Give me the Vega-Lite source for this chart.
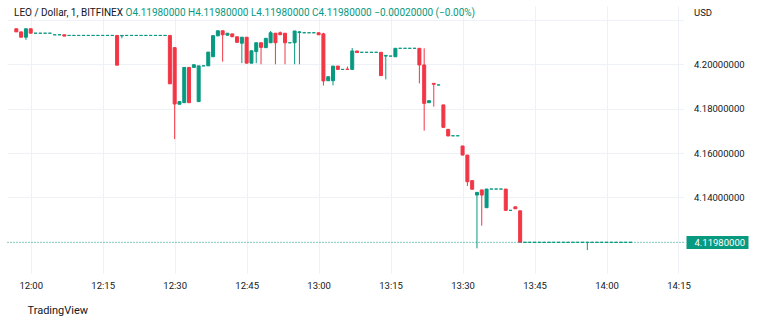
{
  "$schema": "https://vega.github.io/schema/vega-lite/v6.json",
  "width": 676.5,
  "height": 267,
  "autosize": {"type": "none"},
  "padding": {"left": 7, "top": 6, "right": 76.5, "bottom": 52},
  "background": "white",
  "config": {"view": {"stroke": null}, "font": "Roboto"},
  "title": {"text": "LEO / Dollar, 1, BITFINEX", "anchor": "start", "frame": "group", "dx": 7, "dy": 11, "offset": -6, "baseline": "middle", "fontSize": 10, "fontWeight": "normal", "color": "#131722"},
  "data": {
    "format": {"parse": {"t": "date:'%H:%M'"}},
    "values": [
      {"t": "11:57", "o": 4.2160, "h": 4.2160, "l": 4.2146, "c": 4.2146},
      {"t": "11:58", "o": 4.2146, "h": 4.2146, "l": 4.2122, "c": 4.2122},
      {"t": "11:59", "o": 4.2122, "h": 4.2160, "l": 4.2110, "c": 4.2160},
      {"t": "12:00", "o": 4.2160, "h": 4.2160, "l": 4.2140, "c": 4.2140},
      {"t": "12:01", "o": 4.2140, "h": 4.2140, "l": 4.2140, "c": 4.2140},
      {"t": "12:02", "o": 4.2140, "h": 4.2140, "l": 4.2140, "c": 4.2140},
      {"t": "12:03", "o": 4.2140, "h": 4.2140, "l": 4.2140, "c": 4.2140},
      {"t": "12:04", "o": 4.2140, "h": 4.2140, "l": 4.2140, "c": 4.2140},
      {"t": "12:05", "o": 4.2133, "h": 4.2133, "l": 4.2133, "c": 4.2133},
      {"t": "12:06", "o": 4.2133, "h": 4.2133, "l": 4.2133, "c": 4.2133},
      {"t": "12:07", "o": 4.2133, "h": 4.2133, "l": 4.2127, "c": 4.2127},
      {"t": "12:08", "o": 4.2130, "h": 4.2130, "l": 4.2130, "c": 4.2130},
      {"t": "12:09", "o": 4.2130, "h": 4.2130, "l": 4.2130, "c": 4.2130},
      {"t": "12:10", "o": 4.2130, "h": 4.2130, "l": 4.2130, "c": 4.2130},
      {"t": "12:11", "o": 4.2130, "h": 4.2130, "l": 4.2130, "c": 4.2130},
      {"t": "12:12", "o": 4.2130, "h": 4.2130, "l": 4.2130, "c": 4.2130},
      {"t": "12:13", "o": 4.2130, "h": 4.2130, "l": 4.2130, "c": 4.2130},
      {"t": "12:14", "o": 4.2130, "h": 4.2130, "l": 4.2130, "c": 4.2130},
      {"t": "12:15", "o": 4.2130, "h": 4.2130, "l": 4.2130, "c": 4.2130},
      {"t": "12:16", "o": 4.2130, "h": 4.2130, "l": 4.2130, "c": 4.2130},
      {"t": "12:17", "o": 4.2130, "h": 4.2130, "l": 4.2130, "c": 4.2130},
      {"t": "12:18", "o": 4.2130, "h": 4.2130, "l": 4.1996, "c": 4.1996},
      {"t": "12:19", "o": 4.2128, "h": 4.2130, "l": 4.2117, "c": 4.2130},
      {"t": "12:20", "o": 4.2130, "h": 4.2130, "l": 4.2130, "c": 4.2130},
      {"t": "12:21", "o": 4.2130, "h": 4.2130, "l": 4.2130, "c": 4.2130},
      {"t": "12:22", "o": 4.2130, "h": 4.2130, "l": 4.2130, "c": 4.2130},
      {"t": "12:23", "o": 4.2130, "h": 4.2130, "l": 4.2130, "c": 4.2130},
      {"t": "12:24", "o": 4.2130, "h": 4.2130, "l": 4.2130, "c": 4.2130},
      {"t": "12:25", "o": 4.2130, "h": 4.2130, "l": 4.2130, "c": 4.2130},
      {"t": "12:26", "o": 4.2130, "h": 4.2130, "l": 4.2130, "c": 4.2130},
      {"t": "12:27", "o": 4.2130, "h": 4.2130, "l": 4.2130, "c": 4.2130},
      {"t": "12:28", "o": 4.2130, "h": 4.2130, "l": 4.2130, "c": 4.2130},
      {"t": "12:29", "o": 4.2130, "h": 4.2130, "l": 4.1912, "c": 4.1912},
      {"t": "12:30", "o": 4.2075, "h": 4.2075, "l": 4.1663, "c": 4.1821},
      {"t": "12:31", "o": 4.1820, "h": 4.1832, "l": 4.1820, "c": 4.1832},
      {"t": "12:32", "o": 4.1827, "h": 4.1986, "l": 4.1827, "c": 4.1986},
      {"t": "12:33", "o": 4.1986, "h": 4.1986, "l": 4.1827, "c": 4.1827},
      {"t": "12:34", "o": 4.1986, "h": 4.1998, "l": 4.1986, "c": 4.1998},
      {"t": "12:35", "o": 4.1832, "h": 4.1993, "l": 4.1832, "c": 4.1993},
      {"t": "12:36", "o": 4.1993, "h": 4.1993, "l": 4.1993, "c": 4.1993},
      {"t": "12:37", "o": 4.1993, "h": 4.2055, "l": 4.1993, "c": 4.2055},
      {"t": "12:38", "o": 4.2034, "h": 4.2129, "l": 4.2034, "c": 4.2129},
      {"t": "12:39", "o": 4.2128, "h": 4.2151, "l": 4.2128, "c": 4.2151},
      {"t": "12:40", "o": 4.2151, "h": 4.2151, "l": 4.2012, "c": 4.2133},
      {"t": "12:41", "o": 4.2131, "h": 4.2140, "l": 4.2131, "c": 4.2140},
      {"t": "12:42", "o": 4.2137, "h": 4.2137, "l": 4.2124, "c": 4.2124},
      {"t": "12:43", "o": 4.2124, "h": 4.2124, "l": 4.2099, "c": 4.2099},
      {"t": "12:44", "o": 4.2095, "h": 4.2122, "l": 4.2005, "c": 4.2122},
      {"t": "12:45", "o": 4.2122, "h": 4.2122, "l": 4.2005, "c": 4.2005},
      {"t": "12:46", "o": 4.2005, "h": 4.2061, "l": 4.2005, "c": 4.2061},
      {"t": "12:47", "o": 4.2057, "h": 4.2097, "l": 4.2005, "c": 4.2097},
      {"t": "12:48", "o": 4.2097, "h": 4.2097, "l": 4.2000, "c": 4.2076},
      {"t": "12:49", "o": 4.2075, "h": 4.2117, "l": 4.2075, "c": 4.2117},
      {"t": "12:50", "o": 4.2097, "h": 4.2150, "l": 4.2097, "c": 4.2142},
      {"t": "12:51", "o": 4.2140, "h": 4.2140, "l": 4.2000, "c": 4.2097},
      {"t": "12:52", "o": 4.2142, "h": 4.2148, "l": 4.2133, "c": 4.2133},
      {"t": "12:53", "o": 4.2140, "h": 4.2140, "l": 4.2000, "c": 4.2097},
      {"t": "12:54", "o": 4.2097, "h": 4.2097, "l": 4.2097, "c": 4.2097},
      {"t": "12:55", "o": 4.2097, "h": 4.2150, "l": 4.2000, "c": 4.2150},
      {"t": "12:56", "o": 4.2143, "h": 4.2150, "l": 4.2000, "c": 4.2146},
      {"t": "12:57", "o": 4.2142, "h": 4.2146, "l": 4.2142, "c": 4.2142},
      {"t": "12:58", "o": 4.2142, "h": 4.2142, "l": 4.2142, "c": 4.2142},
      {"t": "12:59", "o": 4.2142, "h": 4.2145, "l": 4.2142, "c": 4.2142},
      {"t": "13:00", "o": 4.2142, "h": 4.2142, "l": 4.2133, "c": 4.2133},
      {"t": "13:01", "o": 4.2137, "h": 4.2142, "l": 4.1904, "c": 4.1925},
      {"t": "13:02", "o": 4.1926, "h": 4.1944, "l": 4.1926, "c": 4.1944},
      {"t": "13:03", "o": 4.1926, "h": 4.1992, "l": 4.1905, "c": 4.1992},
      {"t": "13:04", "o": 4.1992, "h": 4.1992, "l": 4.1977, "c": 4.1977},
      {"t": "13:05", "o": 4.1977, "h": 4.1977, "l": 4.1977, "c": 4.1977},
      {"t": "13:06", "o": 4.1978, "h": 4.1990, "l": 4.1977, "c": 4.1977},
      {"t": "13:07", "o": 4.1977, "h": 4.2073, "l": 4.1977, "c": 4.2060},
      {"t": "13:08", "o": 4.2060, "h": 4.2060, "l": 4.2053, "c": 4.2053},
      {"t": "13:09", "o": 4.2054, "h": 4.2054, "l": 4.2054, "c": 4.2054},
      {"t": "13:10", "o": 4.2054, "h": 4.2054, "l": 4.2054, "c": 4.2054},
      {"t": "13:11", "o": 4.2054, "h": 4.2054, "l": 4.2054, "c": 4.2054},
      {"t": "13:12", "o": 4.2054, "h": 4.2054, "l": 4.2054, "c": 4.2054},
      {"t": "13:13", "o": 4.2054, "h": 4.2054, "l": 4.1949, "c": 4.1949},
      {"t": "13:14", "o": 4.2037, "h": 4.2042, "l": 4.1932, "c": 4.2040},
      {"t": "13:15", "o": 4.2037, "h": 4.2037, "l": 4.2037, "c": 4.2037},
      {"t": "13:16", "o": 4.2034, "h": 4.2072, "l": 4.2034, "c": 4.2072},
      {"t": "13:17", "o": 4.2072, "h": 4.2072, "l": 4.2072, "c": 4.2072},
      {"t": "13:18", "o": 4.2072, "h": 4.2072, "l": 4.2072, "c": 4.2072},
      {"t": "13:19", "o": 4.2072, "h": 4.2072, "l": 4.2072, "c": 4.2072},
      {"t": "13:20", "o": 4.2072, "h": 4.2072, "l": 4.2072, "c": 4.2072},
      {"t": "13:21", "o": 4.2072, "h": 4.2072, "l": 4.1914, "c": 4.1997},
      {"t": "13:22", "o": 4.1997, "h": 4.2072, "l": 4.1701, "c": 4.1824},
      {"t": "13:23", "o": 4.1827, "h": 4.1836, "l": 4.1827, "c": 4.1836},
      {"t": "13:24", "o": 4.1914, "h": 4.1914, "l": 4.1809, "c": 4.1910},
      {"t": "13:25", "o": 4.1907, "h": 4.1907, "l": 4.1907, "c": 4.1907},
      {"t": "13:26", "o": 4.1817, "h": 4.1817, "l": 4.1716, "c": 4.1716},
      {"t": "13:27", "o": 4.1707, "h": 4.1707, "l": 4.1677, "c": 4.1677},
      {"t": "13:28", "o": 4.1678, "h": 4.1678, "l": 4.1678, "c": 4.1678},
      {"t": "13:29", "o": 4.1678, "h": 4.1678, "l": 4.1678, "c": 4.1678},
      {"t": "13:30", "o": 4.1632, "h": 4.1632, "l": 4.1591, "c": 4.1591},
      {"t": "13:31", "o": 4.1591, "h": 4.1591, "l": 4.1452, "c": 4.1471},
      {"t": "13:32", "o": 4.1476, "h": 4.1476, "l": 4.1437, "c": 4.1437},
      {"t": "13:33", "o": 4.1411, "h": 4.1423, "l": 4.1171, "c": 4.1423},
      {"t": "13:34", "o": 4.1434, "h": 4.1434, "l": 4.1273, "c": 4.1411},
      {"t": "13:35", "o": 4.1354, "h": 4.1438, "l": 4.1354, "c": 4.1438},
      {"t": "13:36", "o": 4.1438, "h": 4.1438, "l": 4.1438, "c": 4.1438},
      {"t": "13:37", "o": 4.1438, "h": 4.1438, "l": 4.1438, "c": 4.1438},
      {"t": "13:38", "o": 4.1438, "h": 4.1438, "l": 4.1438, "c": 4.1438},
      {"t": "13:39", "o": 4.1438, "h": 4.1438, "l": 4.1342, "c": 4.1342},
      {"t": "13:40", "o": 4.1342, "h": 4.1342, "l": 4.1342, "c": 4.1342},
      {"t": "13:41", "o": 4.1358, "h": 4.1358, "l": 4.1349, "c": 4.1349},
      {"t": "13:42", "o": 4.1340, "h": 4.1340, "l": 4.1198, "c": 4.1198},
      {"t": "13:43", "o": 4.1198, "h": 4.1198, "l": 4.1198, "c": 4.1198},
      {"t": "13:44", "o": 4.1198, "h": 4.1198, "l": 4.1198, "c": 4.1198},
      {"t": "13:45", "o": 4.1198, "h": 4.1198, "l": 4.1198, "c": 4.1198},
      {"t": "13:46", "o": 4.1198, "h": 4.1198, "l": 4.1198, "c": 4.1198},
      {"t": "13:47", "o": 4.1198, "h": 4.1198, "l": 4.1198, "c": 4.1198},
      {"t": "13:48", "o": 4.1198, "h": 4.1198, "l": 4.1198, "c": 4.1198},
      {"t": "13:49", "o": 4.1198, "h": 4.1198, "l": 4.1198, "c": 4.1198},
      {"t": "13:50", "o": 4.1198, "h": 4.1198, "l": 4.1198, "c": 4.1198},
      {"t": "13:51", "o": 4.1198, "h": 4.1198, "l": 4.1198, "c": 4.1198},
      {"t": "13:52", "o": 4.1198, "h": 4.1198, "l": 4.1198, "c": 4.1198},
      {"t": "13:53", "o": 4.1198, "h": 4.1198, "l": 4.1198, "c": 4.1198},
      {"t": "13:54", "o": 4.1198, "h": 4.1198, "l": 4.1198, "c": 4.1198},
      {"t": "13:55", "o": 4.1198, "h": 4.1198, "l": 4.1198, "c": 4.1198},
      {"t": "13:56", "o": 4.1198, "h": 4.1198, "l": 4.1163, "c": 4.1198},
      {"t": "13:57", "o": 4.1198, "h": 4.1198, "l": 4.1198, "c": 4.1198},
      {"t": "13:58", "o": 4.1198, "h": 4.1198, "l": 4.1198, "c": 4.1198},
      {"t": "13:59", "o": 4.1198, "h": 4.1198, "l": 4.1198, "c": 4.1198},
      {"t": "14:00", "o": 4.1198, "h": 4.1198, "l": 4.1198, "c": 4.1198},
      {"t": "14:01", "o": 4.1198, "h": 4.1198, "l": 4.1198, "c": 4.1198},
      {"t": "14:02", "o": 4.1198, "h": 4.1198, "l": 4.1198, "c": 4.1198},
      {"t": "14:03", "o": 4.1198, "h": 4.1198, "l": 4.1198, "c": 4.1198},
      {"t": "14:04", "o": 4.1198, "h": 4.1198, "l": 4.1198, "c": 4.1198},
      {"t": "14:05", "o": 4.1198, "h": 4.1198, "l": 4.1198, "c": 4.1198}
    ]
  },
  "layer": [
    {
      "mark": {"type": "rule", "strokeWidth": 1},
      "encoding": {
        "x": {
          "field": "t", "type": "temporal",
          "scale": {"domain": [{"year": 1900, "month": 1, "date": 1, "hours": 11, "minutes": 56, "seconds": 6}, {"year": 1900, "month": 1, "date": 1, "hours": 14, "minutes": 15}]},
          "axis": {
            "orient": "bottom",
            "values": [
              {"year": 1900, "month": 1, "date": 1, "hours": 12, "minutes": 0},
              {"year": 1900, "month": 1, "date": 1, "hours": 12, "minutes": 15},
              {"year": 1900, "month": 1, "date": 1, "hours": 12, "minutes": 30},
              {"year": 1900, "month": 1, "date": 1, "hours": 12, "minutes": 45},
              {"year": 1900, "month": 1, "date": 1, "hours": 13, "minutes": 0},
              {"year": 1900, "month": 1, "date": 1, "hours": 13, "minutes": 15},
              {"year": 1900, "month": 1, "date": 1, "hours": 13, "minutes": 30},
              {"year": 1900, "month": 1, "date": 1, "hours": 13, "minutes": 45},
              {"year": 1900, "month": 1, "date": 1, "hours": 14, "minutes": 0},
              {"year": 1900, "month": 1, "date": 1, "hours": 14, "minutes": 15}
            ],
            "format": "%H:%M",
            "labelFontSize": 9.5, "labelColor": "#131722", "labelPadding": 7,
            "labelOverlap": false, "labelFlush": true,
            "ticks": false, "domain": false, "grid": true, "gridColor": "#eef1f6",
            "title": "TradingView", "titleX": 20, "titleY": 37, "titleAlign": "left", "titleBaseline": "middle",
            "titleFontSize": 11, "titleFontWeight": "normal", "titleColor": "#131722"
          }
        },
        "y": {
          "field": "l", "type": "quantitative",
          "scale": {"domain": [4.10598, 4.22626], "zero": false, "nice": false},
          "axis": {
            "orient": "right",
            "values": [4.14, 4.16, 4.18, 4.2, 4.22],
            "labelExpr": "datum.value > 4.21 ? '' : format(datum.value, '.8f')",
            "labelFontSize": 9.5, "labelColor": "#131722", "labelPadding": 10,
            "labelFlush": false, "labelOverlap": false,
            "ticks": false, "domain": false, "grid": true, "gridColor": "#eef1f6",
            "title": "USD", "titleAngle": 0, "titleX": 10, "titleY": 6, "titleAlign": "left", "titleBaseline": "middle",
            "titleFontSize": 9.5, "titleFontWeight": "normal", "titleColor": "#131722"
          }
        },
        "y2": {"field": "h"},
        "color": {"condition": {"test": "datum.c >= datum.o", "value": "#089981"}, "value": "#f23645"}
      }
    },
    {
      "mark": {"type": "bar", "size": 3, "strokeWidth": 1},
      "encoding": {
        "x": {
          "field": "t", "type": "temporal",
          "axis": {
            "orient": "top", "labels": false, "ticks": false, "domain": false, "grid": false,
            "title": "O4.11980000  H4.11980000  L4.11980000  C4.11980000  −0.00020000 (−0.00%)",
            "titleX": 118, "titleY": 6, "titleAlign": "left", "titleBaseline": "middle",
            "titleFontSize": 10, "titleFontWeight": "normal", "titleColor": "#089981"
          }
        },
        "y": {"field": "o", "type": "quantitative", "axis": null},
        "y2": {"field": "c"},
        "fill": {"condition": {"test": "datum.c >= datum.o", "value": "#089981"}, "value": "#f23645"},
        "stroke": {"condition": {"test": "datum.c >= datum.o", "value": "#089981"}, "value": "#f23645"}
      }
    },
    {
      "data": {"values": [{"price": 4.1198}]},
      "mark": {"type": "rule", "strokeDash": [1, 2], "color": "#089981", "strokeWidth": 1},
      "encoding": {
        "y": {
          "field": "price", "type": "quantitative",
          "axis": {
            "orient": "right", "values": [4.1198], "format": ".8f", "offset": 2.5,
            "ticks": true, "tickSize": 62, "tickWidth": 13, "tickColor": "#089981",
            "labelColor": "white", "labelPadding": -54, "labelFontSize": 9.5, "labelAlign": "left", "labelBaseline": "middle",
            "labelFlush": false, "domain": false, "grid": false, "title": null
          }
        }
      }
    }
  ],
  "resolve": {"axis": {"x": "independent", "y": "independent"}}
}
